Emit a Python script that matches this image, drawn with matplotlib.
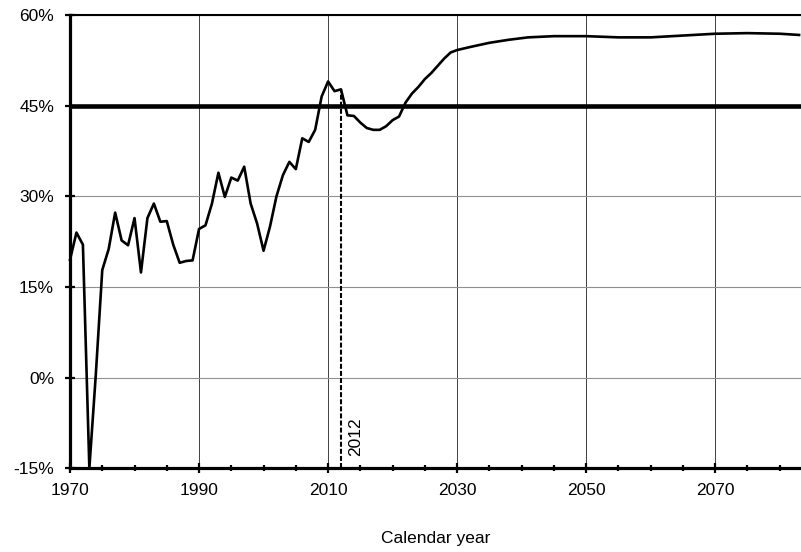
import matplotlib; matplotlib.use('Agg')
import numpy as np
from matplotlib import pyplot as plt
from matplotlib.ticker import FixedLocator, MultipleLocator, FuncFormatter

plt.rcParams.update({
    'font.family': ['Liberation Sans', 'DejaVu Sans'],
    'font.size': 12.5,
})

# Data ------------------------------------------------------------------------
years = list(range(1970, 2031)) + [2032, 2035, 2038, 2041, 2045, 2050, 2055,
                                    2060, 2065, 2070, 2075, 2080, 2083]
values = [
    19.5, 24.0, 22.0, -15.0, 0.5, 17.8, 21.3, 27.3, 22.7, 21.9,   # 1970-1979
    26.4, 17.4, 26.4, 28.8, 25.8, 25.9, 22.0, 19.0, 19.3, 19.4,   # 1980-1989
    24.6, 25.2, 28.8, 33.9, 29.9, 33.1, 32.6, 34.9, 28.8, 25.5,   # 1990-1999
    21.0, 25.0, 30.0, 33.5, 35.7, 34.5, 39.6, 39.0, 41.0, 46.5,   # 2000-2009
    49.0, 47.4, 47.7, 43.4, 43.3, 42.2, 41.3, 41.0, 41.0, 41.6,   # 2010-2019
    42.6, 43.2, 45.5, 47.0, 48.1, 49.4, 50.4, 51.6, 52.8, 53.8,   # 2020-2029
    54.2,                                                         # 2030
    54.7, 55.4, 55.9, 56.3, 56.5, 56.5, 56.3, 56.3, 56.6, 56.9,
    57.0, 56.9, 56.7,
]
major_years = [1970, 1990, 2010, 2030, 2050, 2070]
threshold = 45.0
marker_year = 2012
marker_value = 47.7

# Plot ------------------------------------------------------------------------
fig = plt.figure(figsize=(8.01, 5.52), dpi=100)
ax = fig.add_axes([70 / 801, 1 - 468.3 / 552, 731 / 801, (468.3 - 15) / 552])

ax.set_xlim(1970, 2083.3)
ax.set_ylim(-15, 60)

ax.xaxis.set_major_locator(FixedLocator(major_years))
ax.xaxis.set_minor_locator(MultipleLocator(5))
ax.yaxis.set_major_locator(MultipleLocator(15))
ax.yaxis.set_major_formatter(FuncFormatter(lambda v, p: '%d%%' % round(v)))

ax.grid(True, axis='x', which='major', color='#404040', lw=0.7)
ax.grid(True, axis='y', which='major', color='#909090', lw=0.8)
ax.set_axisbelow(True)

ax.spines['right'].set_visible(False)
ax.spines['left'].set_linewidth(2.3)
ax.spines['bottom'].set_linewidth(2.3)
ax.spines['top'].set_linewidth(1.5)

ax.tick_params(axis='both', which='major', direction='inout', length=7,
               width=1.6, colors='black', labelsize=12.5)
ax.tick_params(axis='x', which='major', pad=7)
ax.tick_params(axis='y', which='major', pad=8)
ax.tick_params(axis='x', which='minor', direction='inout', length=5,
               width=1.6)
ax.tick_params(axis='y', which='minor', left=False)

ax.axhline(threshold, color='black', lw=3.3, zorder=3)
ax.plot([marker_year, marker_year], [-15, marker_value], color='black',
        lw=1.5, ls=(0, (2.4, 1.0)), zorder=3)
ax.text(marker_year + 1.1, -12.9, str(marker_year), rotation=90,
        ha='left', va='bottom', fontsize=12.5)

ax.plot(years, values, color='black', lw=1.9, zorder=4,
        solid_joinstyle='round', clip_on=False)

ax.set_xlabel('Calendar year', fontsize=12.5, labelpad=24)

plt.savefig('out.png', dpi=100)
plt.close()
